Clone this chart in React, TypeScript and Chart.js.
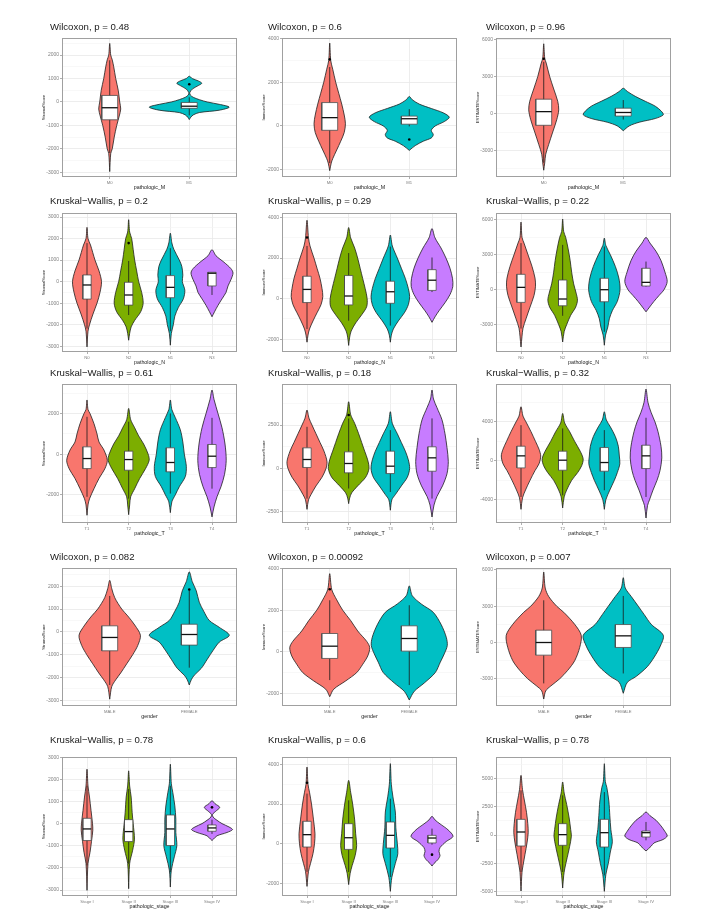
import React, { useEffect, useRef } from "react";
import { Chart, registerables } from "chart.js";
Chart.register(...registerables);

const FONT = '"Liberation Sans", Arial, Helvetica, sans-serif';
Chart.defaults.font.family = FONT;

// ---------- categories ----------
const catsM = ["M0", "M1"];
const catsN = ["N0", "N2", "N1", "N3"];
const catsT = ["T1", "T2", "T3", "T4"];
const catsGender = ["MALE", "FEMALE"];
const catsStage = ["Stage I", "Stage II", "Stage III", "Stage IV"];

// violin profiles: [score, density (half width)] ; boxes: [lowWhisker, q1, median, q3, highWhisker]
// ---------- row 1 : pathologic_M ----------
const stromalM_violin = [
  [[2500,0],[2000,1],[1800,2.5],[1500,4],[1000,6],[500,8.5],[0,10],[-300,11],[-600,9.5],[-1000,7],[-1500,4.5],[-2000,2.5],[-2200,1],[-2970,0]],
  [[1100,0],[1000,3],[900,9],[800,12.5],[700,9],[550,3],[400,0.5],[300,1],[200,4],[100,10],[0,18],[-100,30],[-220,40],[-350,30],[-450,10],[-550,4],[-650,1.5],[-750,0]],
];
const stromalM_box = [[-2180,-760,-245,280,1780],[-570,-270,-180,-20,200]];
const stromalM_out = [[], [760]];
const stromalM_yRange = [-3200, 2730];
const stromalM_yTicks = [-3000,-2000,-1000,0,1000,2000];

const immuneM_violin = [
  [[3800,0],[3000,1],[2600,3],[2000,6],[1500,9],[1000,12],[500,14.5],[100,15.7],[-300,14.5],[-700,11],[-1100,7],[-1500,3],[-1700,1.5],[-2050,0]],
  [[1350,0],[1200,3],[1000,10],[800,22],[600,34],[400,40],[200,35],[0,26],[-200,22],[-400,24],[-550,22],[-700,14],[-900,6],[-1120,0]],
];
const immuneM_box = [[-1700,-200,380,1070,2700],[-20,80,330,450,770]];
const immuneM_out = [[3050], [-620]];
const immuneM_yRange = [-2340, 4030];
const immuneM_yTicks = [-2000,0,2000,4000];

const estimateM_violin = [
  [[5670,0],[4500,1],[4100,2.5],[3000,6],[2000,10],[1000,14],[300,15],[-500,13],[-1500,9],[-2500,5],[-3300,2],[-4000,1],[-4600,0]],
  [[2060,0],[1800,4],[1400,12],[1000,22],[600,32],[200,38],[-100,40],[-400,32],[-700,16],[-1000,6],[-1390,0]],
];
const estimateM_box = [[-4000,-950,160,1170,4200],[-480,-200,90,440,1100]];
const estimateM_out = [[4450], []];
const estimateM_yRange = [-5150, 6140];
const estimateM_yTicks = [-3000,0,3000,6000];

// ---------- row 2 : pathologic_N ----------
const stromalN_violin = [
  [[2520,0],[2000,1],[1700,3.5],[1000,8],[500,12],[0,14.5],[-500,13],[-1000,10],[-1500,6],[-2000,2.5],[-2300,1],[-3030,0]],
  [[2875,0],[2300,1],[2000,3],[1500,4.5],[1000,6],[500,8],[0,10],[-500,13],[-1000,14.5],[-1400,12],[-1800,6],[-2100,2.5],[-2400,1],[-2720,0]],
  [[2250,0],[1800,1.5],[1500,3.5],[1000,9],[700,11.5],[300,12.5],[0,12],[-400,14.5],[-800,13],[-1200,8],[-1600,4.5],[-2000,3],[-2400,1],[-2950,0]],
  [[1480,0],[1200,4],[900,12],[600,19],[400,21],[100,19],[-200,16],[-500,14],[-800,10],[-1100,6],[-1400,2.5],[-1630,0]],
];
const stromalN_box = [[-2180,-810,-155,310,1790],[-1550,-1090,-620,-30,960],[-2300,-745,-265,280,1550],[-620,-200,390,435,435]];
const stromalN_out = [[], [1790], [], []];
const stromalN_yRange = [-3266, 3186];
const stromalN_yTicks = [-3000,-2000,-1000,0,1000,2000,3000];

const immuneN_violin = [
  [[3870,0],[3000,1.5],[2600,3],[2000,7],[1500,10],[1000,13],[500,15],[100,15.8],[-300,14],[-700,10],[-1100,6],[-1500,2.5],[-1800,1],[-2150,0]],
  [[3510,0],[3000,2],[2500,6],[2000,9],[1500,11.5],[1000,14],[500,16.5],[0,18.5],[-400,18],[-800,13],[-1200,7],[-1600,2.5],[-1900,1],[-2310,0]],
  [[3140,0],[2600,2],[2000,7],[1500,11],[1000,15],[500,18],[100,19.3],[-300,18],[-700,14],[-1100,8],[-1500,3],[-1800,1],[-2150,0]],
  [[3460,0],[3000,3],[2500,9],[2000,14],[1500,18],[1000,20.5],[600,20.8],[200,18],[-200,13],[-600,7],[-900,3],[-1170,0]],
];
const immuneN_box = [[-1500,-195,455,1105,2600],[-1090,-310,130,1140,2250],[-1330,-230,340,860,2570],[325,405,910,1430,2030]];
const immuneN_out = [[3020], [], [], []];
const immuneN_yRange = [-2634, 4227];
const immuneN_yTicks = [-2000,0,2000,4000];

const estimateN_violin = [
  [[5810,0],[4500,1],[4000,3],[3000,7],[2000,11],[1000,14],[300,14.5],[-500,13],[-1500,9],[-2500,5],[-3300,2],[-4000,1],[-4920,0]],
  [[6070,0],[5000,1],[4500,3],[3500,5.5],[2500,7.5],[1500,9],[500,11],[-300,13.5],[-900,14.8],[-1500,13],[-2200,8],[-3000,4],[-3600,1.5],[-4490,0]],
  [[4430,0],[3800,1.5],[3000,6],[2000,11],[1000,14.5],[0,15.7],[-1000,13],[-1800,8],[-2500,5],[-3200,3.5],[-3900,1.2],[-4770,0]],
  [[4490,0],[4000,4],[3300,10],[2500,15],[1500,19],[700,21.2],[0,18],[-500,13],[-1000,8],[-1500,3.5],[-1900,0]],
];
const estimateN_box = [[-3340,-1090,200,1320,4000],[-2240,-1380,-800,830,3850],[-3620,-1035,0,980,3710],[260,316,630,1840,2415]];
const estimateN_out = [[], [], [], []];
const estimateN_yRange = [-5350, 6586];
const estimateN_yTicks = [-3000,0,3000,6000];

// ---------- row 3 : pathologic_T ----------
const stromalT_violin = [
  [[2670,0],[2200,1],[2000,3],[1500,7],[1000,10],[600,12],[200,17],[-300,20.3],[-700,18],[-1200,12],[-1700,7],[-2200,2.5],[-2500,1],[-3010,0]],
  [[2255,0],[1700,2],[1300,6],[900,10],[500,15],[0,19.5],[-300,20.5],[-700,17],[-1200,11],[-1700,6],[-2100,2],[-2500,1],[-2980,0]],
  [[2670,0],[2200,1.5],[1800,5],[1200,10],[600,12.5],[0,14],[-600,16],[-1100,15],[-1600,9],[-2000,5],[-2350,1.5],[-2880,0]],
  [[3160,0],[2700,2],[2000,6],[1300,10],[500,13],[-300,14.2],[-1000,12.5],[-1600,9],[-2100,5],[-2600,2],[-3090,0]],
];
const stromalT_box = [[-2100,-710,-215,360,1840],[-2190,-790,-265,150,1600],[-1940,-870,-410,313,2010],[-1700,-660,-100,477,1790]];
const stromalT_out = [[], [], [], []];
const stromalT_yRange = [-3391, 3457];
const stromalT_yTicks = [-2000,0,2000];

const immuneT_violin = [
  [[3365,0],[2900,2],[2500,5],[2000,9],[1500,13],[1000,17],[400,20],[0,19],[-500,15],[-1000,9],[-1500,4],[-1800,1.5],[-2350,0]],
  [[3845,0],[3100,2],[2600,6],[2000,10],[1500,13],[1000,16],[500,19],[0,20.3],[-500,17],[-1000,9],[-1400,3],[-1700,1],[-2020,0]],
  [[3270,0],[2600,2],[2000,7],[1500,11],[1000,15],[500,18],[0,19.3],[-500,17],[-1000,11],[-1500,5],[-1800,1.5],[-2400,0]],
  [[4520,0],[4000,1.5],[3500,5],[2800,10],[2000,13],[1200,15],[400,16.3],[-300,15],[-1000,10.5],[-1600,5],[-2100,2],[-2790,0]],
];
const immuneT_box = [[-1730,60,520,1190,2400],[-1150,-250,290,960,2880],[-1350,-290,135,1000,2210],[-1730,-155,615,1250,2885]];
const immuneT_out = [[], [3077], [], []];
const immuneT_yRange = [-3135, 4865];
const immuneT_yTicks = [-2500,0,2500];

const estimateT_violin = [
  [[5560,0],[4600,2],[4000,5],[3000,10],[2000,14.5],[1200,18],[500,19.7],[-300,18],[-1000,14],[-2000,9],[-3000,4.5],[-3800,1.5],[-4980,0]],
  [[4875,0],[3900,2],[3000,7],[2000,12],[1000,17.5],[200,20.5],[-500,19],[-1200,15],[-2000,9],[-3000,4],[-3700,1.5],[-4840,0]],
  [[5045,0],[4200,2],[3500,6],[2500,11],[1500,14],[500,15],[-300,15.5],[-1200,13],[-2000,10],[-3000,5.5],[-4000,1.5],[-4980,0]],
  [[7380,0],[6000,2],[5000,5],[4000,9],[3000,12],[1500,15],[300,15.8],[-1000,14],[-2000,11],[-3000,7],[-4000,3.5],[-4600,1.5],[-5870,0]],
];
const estimateT_box = [[-3710,-720,515,1510,3670],[-3540,-960,70,995,3330],[-3020,-1065,-170,1370,3160],[-3710,-790,515,1610,4430]];
const estimateT_out = [[], [], [], []];
const estimateT_yRange = [-6385, 7900];
const estimateT_yTicks = [-4000,0,4000];

// ---------- row 4 : gender ----------
const stromalG_violin = [
  [[2260,0],[1900,2],[1500,5],[1000,12],[700,18],[300,25],[-150,30.7],[-600,28],[-1000,23],[-1400,17],[-1800,11],[-2100,6],[-2400,2],[-2950,0]],
  [[2630,0],[2200,3],[1800,7],[1300,10],[900,14.5],[500,20],[200,30],[-150,40],[-450,30],[-800,24],[-1200,18],[-1600,12],[-1900,5],[-2100,2],[-2330,0]],
];
const stromalG_box = [[-2330,-830,-245,265,1575],[-1570,-580,-115,335,1825]];
const stromalG_out = [[], [1855]];
const stromalG_yRange = [-3250, 2800];
const stromalG_yTicks = [-3000,-2000,-1000,0,1000,2000];

const immuneG_violin = [
  [[3760,0],[3000,2],[2500,7],[2000,13],[1500,21],[1000,28],[500,37],[200,40],[-200,38],[-600,33],[-1000,27],[-1400,16],[-1800,4],[-2160,0]],
  [[3170,0],[2700,3],[2300,12],[1900,24],[1300,32],[700,37],[300,38],[-100,35],[-500,31],[-1000,26],[-1500,15],[-1900,5],[-2320,0]],
];
const immuneG_box = [[-1360,-320,270,880,2480],[-1600,32,640,1250,2240]];
const immuneG_out = [[3010], []];
const immuneG_yRange = [-2608, 4032];
const immuneG_yTicks = [-2000,0,2000,4000];

const estimateG_violin = [
  [[5830,0],[4500,1.5],[3800,5],[3000,13],[2500,20],[1500,31],[600,37.5],[-400,36],[-1500,31],[-2300,24],[-3000,16],[-3600,7],[-4000,2],[-4675,0]],
  [[5360,0],[4500,2],[3800,8],[3000,15],[2300,21],[1500,28],[600,40],[-300,37],[-1200,31],[-2000,24],[-2800,13],[-3300,4],[-4200,0]],
];
const estimateG_box = [[-3380,-1045,0,1020,3490],[-2560,-410,550,1485,3850]];
const estimateG_out = [[], []];
const estimateG_yRange = [-5250, 6160];
const estimateG_yTicks = [-3000,0,3000,6000];

// ---------- row 5 : pathologic_stage ----------
const stromalS_violin = [
  [[2460,0],[1700,1],[1200,2.5],[600,4],[0,5.5],[-300,5.8],[-800,4.5],[-1300,3],[-1800,1],[-3015,0]],
  [[2385,0],[1700,1],[1200,2.5],[500,3.5],[0,4.5],[-700,5.8],[-1200,4],[-1800,1],[-2940,0]],
  [[2685,0],[1800,1],[1400,2.5],[800,4.5],[200,5.5],[-400,5.5],[-1000,6.5],[-1500,4],[-2100,1],[-2865,0]],
  [[1035,0],[900,3],[735,7.7],[550,3.5],[420,0.6],[300,1],[150,5],[0,10],[-150,17],[-270,20.5],[-400,15],[-550,5],[-700,1.5],[-765,0]],
];
const stromalS_box = [[-1890,-765,-240,240,1710],[-1815,-810,-360,180,1560],[-2190,-990,-240,390,1710],[-465,-345,-195,-60,180]];
const stromalS_out = [[], [], [], [735]];
const stromalS_yRange = [-3270, 3010];
const stromalS_yTicks = [-3000,-2000,-1000,0,1000,2000,3000];

const immuneS_violin = [
  [[3875,0],[3000,1],[2600,2.5],[2000,4.5],[1200,6.5],[500,8],[0,7.5],[-500,6],[-1000,3.5],[-1400,1.5],[-2160,0]],
  [[3200,0],[2600,2],[2000,4],[1200,6],[500,7],[-100,8],[-600,6.5],[-1100,3.5],[-1500,1.5],[-2070,0]],
  [[4045,0],[3000,1],[2400,2.5],[1600,5],[800,5.5],[0,7],[-500,7.5],[-1000,5],[-1700,1.5],[-2410,0]],
  [[1380,0],[1200,3],[1000,8],[700,16],[370,21],[100,14],[-200,8],[-400,7],[-600,8],[-800,6],[-1000,2],[-1130,0]],
];
const immuneS_box = [[-1430,-170,455,1130,2530],[-1430,-290,300,1010,2190],[-1685,-220,420,1095,2270],[-50,35,285,420,760]];
const immuneS_out = [[3080], [], [], [-555]];
const immuneS_yRange = [-2645, 4380];
const immuneS_yTicks = [-2000,0,2000,4000];

const estimateS_violin = [
  [[5260,0],[4000,1.5],[3000,3.5],[2000,5.5],[1000,6.8],[200,7.2],[-700,6],[-1700,4],[-2700,2],[-3300,1],[-4940,0]],
  [[4675,0],[3700,1.5],[2700,4],[1500,6.5],[500,8],[-100,8.7],[-1000,7],[-2000,4.5],[-3000,2],[-3600,1],[-4675,0]],
  [[6290,0],[4700,1],[4200,2.5],[3000,4.5],[1700,5.5],[500,6.5],[-600,8],[-1500,6],[-2500,4],[-3500,1.5],[-4970,0]],
  [[2030,0],[1700,4],[1300,10],[800,15],[300,19],[-90,21.2],[-400,17],[-700,8],[-1000,5],[-1410,0]],
];
const estimateS_box = [[-3260,-970,265,1380,3940],[-3260,-910,30,1000,3500],[-3560,-1060,205,1380,3790],[-470,-175,205,350,1150]];
const estimateS_out = [[], [], [], []];
const estimateS_yRange = [-5380, 6880];
const estimateS_yTicks = [-5000,-2500,0,2500,5000];

// ---------- titles ----------
const rowTitles = [
  ["Wilcoxon, p = 0.48", "Wilcoxon, p = 0.6", "Wilcoxon, p = 0.96"],
  ["Kruskal\u2212Wallis, p = 0.2", "Kruskal\u2212Wallis, p = 0.29", "Kruskal\u2212Wallis, p = 0.22"],
  ["Kruskal\u2212Wallis, p = 0.61", "Kruskal\u2212Wallis, p = 0.18", "Kruskal\u2212Wallis, p = 0.32"],
  ["Wilcoxon, p = 0.082", "Wilcoxon, p = 0.00092", "Wilcoxon, p = 0.007"],
  ["Kruskal\u2212Wallis, p = 0.78", "Kruskal\u2212Wallis, p = 0.6", "Kruskal\u2212Wallis, p = 0.78"],
];
const yTitles = ["StromalScore", "ImmuneScore", "ESTIMATEScore"];
const xTitles = ["pathologic_M", "pathologic_N", "pathologic_T", "gender", "pathologic_stage"];
const rowCats = [catsM, catsN, catsT, catsGender, catsStage];

// ---------- layout (page pixels) ----------
const COL_L = [62, 282, 496];
const COL_R = [237, 457, 671];
const ROW_T = [38, 213, 384, 568, 757];
const ROW_B = [177, 352, 523, 706, 896];
const TITLE_X = [50, 268, 486];
const TITLE_Y = [27, 201, 373, 557, 740];
const Y_AXIS_W = 40;
const X_AXIS_H = 16;
const TOP_PAD = 28;
const RIGHT_PAD = 4;

const COLORS2 = ["#F8766D", "#00BFC4"];
const COLORS4 = ["#F8766D", "#7CAE00", "#00BFC4", "#C77CFF"];

const panelData = [
  [stromalM_violin, stromalM_box, stromalM_out, stromalM_yRange, stromalM_yTicks],
  [immuneM_violin, immuneM_box, immuneM_out, immuneM_yRange, immuneM_yTicks],
  [estimateM_violin, estimateM_box, estimateM_out, estimateM_yRange, estimateM_yTicks],
  [stromalN_violin, stromalN_box, stromalN_out, stromalN_yRange, stromalN_yTicks],
  [immuneN_violin, immuneN_box, immuneN_out, immuneN_yRange, immuneN_yTicks],
  [estimateN_violin, estimateN_box, estimateN_out, estimateN_yRange, estimateN_yTicks],
  [stromalT_violin, stromalT_box, stromalT_out, stromalT_yRange, stromalT_yTicks],
  [immuneT_violin, immuneT_box, immuneT_out, immuneT_yRange, immuneT_yTicks],
  [estimateT_violin, estimateT_box, estimateT_out, estimateT_yRange, estimateT_yTicks],
  [stromalG_violin, stromalG_box, stromalG_out, stromalG_yRange, stromalG_yTicks],
  [immuneG_violin, immuneG_box, immuneG_out, immuneG_yRange, immuneG_yTicks],
  [estimateG_violin, estimateG_box, estimateG_out, estimateG_yRange, estimateG_yTicks],
  [stromalS_violin, stromalS_box, stromalS_out, stromalS_yRange, stromalS_yTicks],
  [immuneS_violin, immuneS_box, immuneS_out, immuneS_yRange, immuneS_yTicks],
  [estimateS_violin, estimateS_box, estimateS_out, estimateS_yRange, estimateS_yTicks],
];

function violinPoints(profile: number[][], center: number, k: number) {
  const asc = [...profile].sort((a, b) => a[0] - b[0]);
  const right = asc.map(([v, d]) => ({ x: center + d * k, y: v }));
  const left = [...asc].reverse().map(([v, d]) => ({ x: center - d * k, y: v }));
  return [...right, ...left.slice(1)];
}

const panelDeco = {
  id: "panelDeco",
  afterDraw(chart: any, _args: any, opts: any) {
    const { ctx, chartArea } = chart;
    ctx.save();
    ctx.strokeStyle = "#a0a0a0";
    ctx.lineWidth = 1;
    ctx.strokeRect(
      Math.round(chartArea.left) + 0.5,
      Math.round(chartArea.top) + 0.5,
      Math.round(chartArea.right - chartArea.left) - 1,
      Math.round(chartArea.bottom - chartArea.top) - 1
    );
    ctx.fillStyle = "#1a1a1a";
    ctx.font = `9.6px ${FONT}`;
    ctx.textAlign = "left";
    ctx.textBaseline = "middle";
    ctx.fillText(opts.text, opts.x, opts.y);
    ctx.restore();
  },
};

function Panel({ idx }: { idx: number }) {
  const ref = useRef<HTMLCanvasElement | null>(null);
  const row = Math.floor(idx / 3);
  const col = idx % 3;
  const L = COL_L[col], R = COL_R[col], T = ROW_T[row], B = ROW_B[row];
  const left = L - Y_AXIS_W;
  const top = T - TOP_PAD;
  const width = R - L + Y_AXIS_W + RIGHT_PAD;
  const height = B - T + TOP_PAD + X_AXIS_H;

  useEffect(() => {
    const [violins, boxes, outs, yRange, yTicks] = panelData[idx] as any[];
    const cats = rowCats[row];
    const n = cats.length;
    const colors = n === 2 ? COLORS2 : COLORS4;
    const k = (n + 0.2) / (R - L);
    const hb = 0.1;
    const datasets: any[] = [];
    violins.forEach((prof: number[][], i: number) => {
      const c = i + 1;
      const [lo, q1, med, q3, hi] = boxes[i];
      datasets.push({
        type: "scatter", data: violinPoints(prof, c, k), showLine: true, fill: "shape",
        backgroundColor: colors[i], borderColor: "#1f1f1f", borderWidth: 0.8,
        pointRadius: 0, tension: 0.3, order: 40,
      });
      datasets.push({
        type: "scatter", data: [{ x: c, y: lo }, { x: c, y: hi }], showLine: true, fill: false,
        borderColor: "#1a1a1a", borderWidth: 0.8, pointRadius: 0, order: 30,
      });
      datasets.push({
        type: "scatter",
        data: [{ x: c - hb, y: q1 }, { x: c + hb, y: q1 }, { x: c + hb, y: q3 }, { x: c - hb, y: q3 }, { x: c - hb, y: q1 }],
        showLine: true, fill: "shape", backgroundColor: "#ffffff", borderColor: "#4d4d4d",
        borderWidth: 0.8, pointRadius: 0, tension: 0, order: 20,
      });
      datasets.push({
        type: "scatter", data: [{ x: c - hb, y: med }, { x: c + hb, y: med }], showLine: true, fill: false,
        borderColor: "#111", borderWidth: 1.3, pointRadius: 0, order: 10,
      });
    });
    const outPts: any[] = [];
    outs.forEach((arr: number[], i: number) => arr.forEach((v) => outPts.push({ x: i + 1, y: v })));
    datasets.push({
      type: "scatter", data: outPts, showLine: false, pointRadius: 1.3,
      pointBackgroundColor: "#000", pointBorderWidth: 0, order: 0,
    });

    const step = yTicks.length > 1 ? yTicks[1] - yTicks[0] : 1000;
    const allTicks: number[] = [];
    const first = yTicks[0] - step / 2;
    if (first >= yRange[0]) allTicks.push(first);
    yTicks.forEach((t: number, j: number) => {
      allTicks.push(t);
      const m = t + step / 2;
      if (j < yTicks.length - 1 || m <= yRange[1]) allTicks.push(m);
    });
    const isMajor = (v: number) => yTicks.includes(v);

    const chart = new Chart(ref.current as HTMLCanvasElement, {
      type: "scatter",
      data: { datasets },
      plugins: [panelDeco],
      options: {
        animation: false,
        responsive: false,
        devicePixelRatio: 1,
        events: [],
        layout: { padding: { left: 0, top: TOP_PAD, right: RIGHT_PAD, bottom: 0 } },
        plugins: {
          legend: { display: false },
          tooltip: { enabled: false },
          panelDeco: { text: rowTitles[row][col], x: TITLE_X[col] - left, y: TITLE_Y[row] - top },
        } as any,
        scales: {
          x: {
            type: "linear", min: 0.4, max: n + 0.6, bounds: "data",
            afterBuildTicks: (s: any) => { s.ticks = cats.map((_: string, i: number) => ({ value: i + 1 })); },
            afterFit: (s: any) => { s.height = X_AXIS_H; s.paddingLeft = 0; s.paddingRight = 0; },
            ticks: {
              autoSkip: false, maxRotation: 0, minRotation: 0, padding: 1,
              font: { size: 4.2 }, color: "#808080",
              callback: (v: any) => cats[Math.round(Number(v)) - 1] ?? "",
            },
            grid: { color: "#e9e9e9", lineWidth: 0.8, tickLength: 2, tickColor: "#9a9a9a" },
            border: { display: false },
            title: { display: true, text: xTitles[row], color: "#1a1a1a", font: { size: 5.3, lineHeight: 1.2 }, padding: { top: 0, bottom: 2.6 } },
          },
          y: {
            type: "linear", min: yRange[0], max: yRange[1], bounds: "data",
            afterBuildTicks: (s: any) => { s.ticks = allTicks.map((v) => ({ value: v })); },
            afterFit: (s: any) => { s.width = Y_AXIS_W; s.paddingTop = 0; s.paddingBottom = 0; },
            ticks: {
              autoSkip: false, padding: 1, font: { size: 5 }, color: "#808080",
              callback: (v: any) => (isMajor(Number(v)) ? String(v) : ""),
            },
            grid: {
              color: (c: any) => (c.tick && isMajor(c.tick.value) ? "#e9e9e9" : "#f4f4f4"),
              lineWidth: (c: any) => (c.tick && isMajor(c.tick.value) ? 0.8 : 0.6),
              tickLength: 2,
              tickColor: (c: any) => (c.tick && isMajor(c.tick.value) ? "#9a9a9a" : "rgba(0,0,0,0)"),
            },
            border: { display: false },
            title: { display: true, text: yTitles[col], color: "#222", font: { size: 4.2, lineHeight: 1.2 }, padding: { top: 19, bottom: 0 } },
          },
        },
      } as any,
    });
    return () => chart.destroy();
  }, [idx]);

  return (
    <canvas
      ref={ref}
      width={width}
      height={height}
      style={{ position: "absolute", left, top, width, height }}
    />
  );
}

export default function App() {
  return (
    <div style={{ position: "absolute", left: 0, top: 0, width: 728, height: 924, background: "#ffffff" }}>
      {panelData.map((_, i) => (
        <Panel key={i} idx={i} />
      ))}
    </div>
  );
}
